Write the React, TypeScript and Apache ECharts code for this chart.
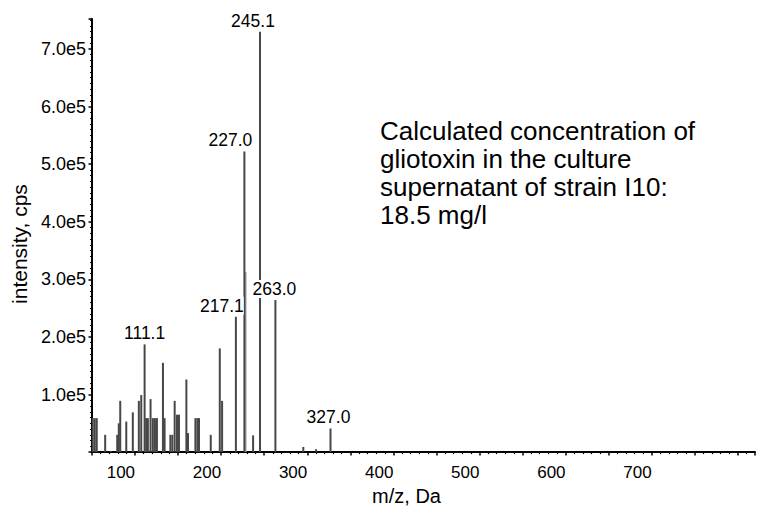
import React, { useEffect, useRef } from "react";
import * as echarts from "echarts";

// m/z values (Da) and intensities (cps)
const mzValues = [
  50.9, 53.2, 55.5, 65.3, 71.5, 79.3, 81.1, 82.8, 89.8, 97.4, 104.4, 107.2,
  111.1, 113.0, 114.9, 118.0, 120.7, 123.1, 125.4, 132.4, 134.3, 141.0, 143.3,
  146.0, 148.7, 151.0, 159.6, 161.5, 170.1, 172.4, 174.3, 187.9, 198.4, 201.1,
  217.1, 227.0, 237.1, 245.1, 263.0, 295.4, 310.2, 327.0,
];
const intensities = [
  59000, 59000, 59000, 30000, 2000, 30000, 50000, 89000, 53000, 69000, 89000,
  99000, 187000, 59000, 59000, 92000, 59000, 59000, 59000, 155000, 59000,
  30000, 30000, 89000, 65000, 65000, 126000, 33000, 59000, 59000, 59000, 30000,
  180000, 89000, 235000, 522000, 29000, 730000, 264000, 9000, 5000, 41000,
];
// faint shoulder peak drawn in a lighter grey
const shoulderMz = [228.3];
const shoulderIntensity = [313000];

const peakLabels = ["111.1", "217.1", "227.0", "245.1", "263.0", "327.0"];

const xTicks = [100, 200, 300, 400, 500, 600, 700];
const yTicks = [100000, 200000, 300000, 400000, 500000, 600000, 700000];

const annotationLines = [
  "Calculated concentration of",
  "gliotoxin in the culture",
  "supernatant of strain I10:",
  "18.5 mg/l",
];

// label horizontal offsets (styling, px)
const labelShift: Record<string, number> = {
  "111.1": 0,
  "217.1": -14,
  "227.0": -14,
  "245.1": -7,
  "263.0": -1,
  "327.0": -2,
};

const FONT = "Liberation Sans, Arial, Helvetica, sans-serif";

export default function App() {
  const ref = useRef<HTMLDivElement>(null);

  useEffect(() => {
    document.body.style.margin = "0";
    if (!ref.current) return;
    const chart = echarts.init(ref.current, null, { renderer: "svg" });

    const mainData = mzValues.map((mz, i) => {
      const name = mz.toFixed(1);
      const labeled = peakLabels.includes(name);
      return {
        name,
        value: [mz, intensities[i]],
        label: labeled
          ? {
              show: true,
              position: "top",
              distance: 2,
              formatter: "{b}",
              offset: [labelShift[name] || 0, 0],
              color: "#000",
              fontSize: 17.5,
              fontFamily: FONT,
              backgroundColor: "#ffffff",
              padding: [0, 0, 0, 0],
            }
          : { show: false },
      };
    });

    chart.setOption({
      animation: false,
      backgroundColor: "#ffffff",
      grid: { left: 92, right: 9, top: 19, bottom: 55 },
      xAxis: {
        type: "value",
        min: 50,
        max: 820,
        interval: 50,
        name: "m/z, Da",
        nameLocation: "middle",
        nameGap: 31,
        nameTextStyle: {
          fontSize: 20,
          fontFamily: FONT,
          color: "#000",
          padding: [0, 34, 0, 0],
        },
        axisLine: { show: true, onZero: false, lineStyle: { color: "#000", width: 2 } },
        axisTick: { show: true, length: 3.5, lineStyle: { color: "#000", width: 1.5 } },
        minorTick: { show: true, splitNumber: 5, length: 2, lineStyle: { color: "#000", width: 1.2 } },
        splitLine: { show: false },
        minorSplitLine: { show: false },
        axisLabel: {
          align: "right",
          margin: 12,
          fontSize: 17,
          fontFamily: FONT,
          color: "#000",
          showMinLabel: true,
          showMaxLabel: true,
          formatter: (v: number) => (xTicks.includes(Math.round(v)) ? String(Math.round(v)) : ""),
        },
      },
      yAxis: {
        type: "value",
        min: 0,
        max: 752000,
        interval: 100000,
        name: "intensity, cps",
        nameLocation: "middle",
        nameGap: 58,
        nameTextStyle: {
          fontSize: 21,
          fontFamily: FONT,
          color: "#000",
          padding: [0, 17, 0, 0],
        },
        axisLine: { show: true, lineStyle: { color: "#000", width: 2 } },
        axisTick: { show: true, length: 3.5, lineStyle: { color: "#000", width: 1.5 } },
        minorTick: { show: true, splitNumber: 10, length: 2, lineStyle: { color: "#000", width: 1.2 } },
        splitLine: { show: false },
        minorSplitLine: { show: false },
        axisLabel: {
          margin: 6,
          fontSize: 18,
          fontFamily: FONT,
          color: "#000",
          formatter: (v: number) =>
            yTicks.includes(Math.round(v)) ? (v / 100000).toFixed(1) + "e5" : "",
        },
      },
      series: [
        {
          type: "bar",
          barWidth: 2,
          itemStyle: { color: "#a8a8a8" },
          data: shoulderMz.map((mz, i) => [mz, shoulderIntensity[i]]),
          z: 1,
        },
        {
          type: "bar",
          barWidth: 2,
          barGap: "-100%",
          itemStyle: { color: "#474747" },
          data: mainData,
          z: 2,
        },
      ],
      graphic: [
        {
          type: "text",
          left: 380,
          top: 117,
          style: {
            text: annotationLines.join("\n"),
            font: `26px ${FONT}`,
            lineHeight: 28,
            fill: "#000",
          },
        },
      ],
    });

    return () => {
      chart.dispose();
    };
  }, []);

  return <div ref={ref} style={{ width: 764, height: 511 }} />;
}
